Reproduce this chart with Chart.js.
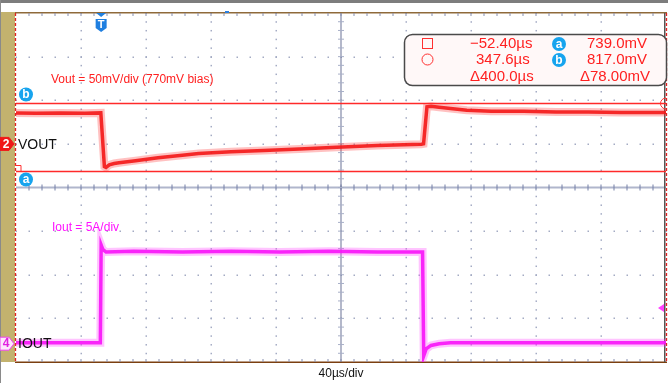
<!DOCTYPE html>
<html>
<head>
<meta charset="utf-8">
<script src="https://cdn.jsdelivr.net/npm/chart.js@4.4.1/dist/chart.umd.min.js"></script>
<style>
html,body{margin:0;padding:0;background:#fff;}
canvas{display:block;}
</style>
</head>
<body>
<canvas id="c" width="668" height="383"></canvas>
<script>
// ---- data (time in µs, Vout in mV, Iout in A) ----
const voutTime = [-52.4,-40,-25,-10,-0.2,2,3,5,8,11,20,35,50,60,80,100,122,145,170,197,198.4,200.5,203,208,215,225,240,260,280,300,320,347.6];
const voutMv   = [805.5,805,805.5,805,805.5,744,743,746,747.5,748.4,750.5,754,757,759,761,762.5,764,766,768,769.5,770,812.5,813,812,810.5,808.5,807.5,807.5,806.5,806.5,806,806];
const ioutTime = [-52.4,-30,-10,-0.5,0,1,3,20,50,80,110,140,170,197.8,198.5,200,203,208,215,250,300,347.6];
const ioutAmp  = [0.1,0.1,0.1,0.1,11.3,10.8,10.5,10.6,10.5,10.6,10.5,10.6,10.5,10.5,-1.4,-0.6,-0.2,0.0,0.1,0.1,0.1,0.1];
// scope settings / readouts
const timeMin = -52.4, timeMax = 347.6;          // cursor positions span the screen
const voutPerDiv = 50, voutBias = 770, voutMarkerDiv = 1;
const ioutPerDiv = 5, ioutZeroDiv = -3.58;
const cursorA = 739.0, cursorB = 817.0;
const readoutRows = [
  ["−52.40µs", "a", "739.0mV"],
  ["347.6µs", "b", "817.0mV"],
  ["Δ400.0µs", "", "Δ78.00mV"]
];

const pts = (xs, ys) => xs.map((x, i) => ({x: x, y: ys[i]}));

const scopePlugin = {
  id: 'scope',
  beforeDatasetsDraw(chart) {
    const ctx = chart.ctx, a = chart.chartArea;
    const L = a.left, R = a.right, T = a.top, B = a.bottom;
    const dx = (R - L) / 10, dy = (B - T) / 8;
    ctx.save();
    ctx.fillStyle = '#7d7d7d'; ctx.fillRect(0, 0, 668, 3);
    ctx.fillStyle = '#c3b26e'; ctx.fillRect(0, T - 1, L - 1, B - T + 1);
    ctx.fillStyle = '#8a8a8a'; ctx.fillRect(0, 0, 1, 383);
    ctx.fillStyle = '#a4abc4';
    for (let k = 1; k < 10; k++) {
      if (k === 5) continue;
      const x = Math.round(L + k * dx);
      for (let j = 0; j <= 40; j++) ctx.fillRect(x - 0.5, T + j * dy / 5 - 0.5, 1.5, 1.5);
    }
    for (let k = 1; k < 8; k++) {
      if (k === 4) continue;
      const y = Math.round(T + k * dy);
      for (let j = 0; j <= 50; j++) ctx.fillRect(L + j * dx / 5 - 0.5, y - 0.5, 1.5, 1.5);
    }
    const cy = T + 4 * dy, cx = L + 5 * dx;
    ctx.fillStyle = '#b0b6cc'; ctx.fillRect(L, cy - 1, R - L, 2);
    ctx.fillStyle = '#7480a8';
    for (let j = 1; j < 50; j++) ctx.fillRect(L + j * dx / 5 - 0.5, cy - 3, 1, 6);
    ctx.fillStyle = '#6a7396'; ctx.fillRect(cx - 0.5, T, 1, B - T);
    ctx.fillStyle = '#a8b0c8';
    for (let j = 1; j < 40; j++) ctx.fillRect(cx - 3, T + j * dy / 5 - 0.5, 6, 1);
    ctx.fillStyle = '#8f6a3a'; ctx.fillRect(L - 1, T - 1, 668 - L, 1.5);
    ctx.fillStyle = '#7b3f10'; ctx.fillRect(L - 1, B - 0.5, 668 - L, 1.5);
    ctx.fillStyle = '#8890b0';
    for (let j = 1; j < 50; j++) {
      const x = L + j * dx / 5;
      ctx.fillRect(x - 0.5, T, 1, 3);
      ctx.fillRect(x - 0.5, B - 3, 1, 3);
    }
    ctx.fillStyle = '#555'; ctx.fillRect(R - 2, T, 1.5, B - T);
    ctx.restore();
  },
  afterDatasetsDraw(chart) {
    const ctx = chart.ctx, a = chart.chartArea;
    const L = a.left, R = a.right, T = a.top, B = a.bottom;
    const yV = chart.scales.y, yI = chart.scales.y2;
    ctx.save();
    ctx.strokeStyle = '#ff2a2a'; ctx.lineWidth = 1.3;
    const ya = Math.round(yV.getPixelForValue(cursorA)) + 0.5;
    const yb = Math.round(yV.getPixelForValue(cursorB)) + 0.5;
    ctx.beginPath(); ctx.moveTo(L, ya); ctx.lineTo(R, ya); ctx.moveTo(L, yb); ctx.lineTo(R, yb); ctx.stroke();
    ctx.setLineDash([3, 2]); ctx.strokeStyle = '#e02020';
    ctx.beginPath(); ctx.moveTo(L - 0.5, T); ctx.lineTo(L - 0.5, B); ctx.moveTo(R + 0.5, T); ctx.lineTo(R + 0.5, B); ctx.stroke();
    ctx.setLineDash([]);
    ctx.strokeStyle = '#ff3030'; ctx.lineWidth = 1;
    ctx.beginPath(); ctx.moveTo(L - 1, ya - 6); ctx.lineTo(L + 5, ya - 6); ctx.lineTo(L + 5, ya); ctx.stroke();
    ctx.beginPath(); ctx.arc(R, yb, 5.5, Math.PI * 0.5, Math.PI * 1.5); ctx.stroke();
    const badge = (x, y, t) => {
      ctx.fillStyle = '#17a4ee'; ctx.beginPath(); ctx.arc(x, y, 7, 0, Math.PI * 2); ctx.fill();
      ctx.fillStyle = '#fff'; ctx.font = 'bold 12px "Liberation Sans", Arial, sans-serif';
      ctx.textAlign = 'center'; ctx.textBaseline = 'middle'; ctx.fillText(t, x, y + 0.5);
    };
    badge(L + 10, yb - 9, 'b');
    badge(L + 10, ya + 8, 'a');
    const chMark = (y, fill, stroke, txtCol, t) => {
      ctx.beginPath(); ctx.moveTo(0, y - 6.5); ctx.lineTo(9, y - 6.5); ctx.lineTo(14, y); ctx.lineTo(9, y + 6.5); ctx.lineTo(0, y + 6.5); ctx.closePath();
      ctx.fillStyle = fill; ctx.fill(); ctx.strokeStyle = stroke; ctx.lineWidth = 1; ctx.stroke();
      ctx.fillStyle = txtCol; ctx.font = 'bold 12px "Liberation Sans", Arial, sans-serif';
      ctx.textAlign = 'center'; ctx.textBaseline = 'middle'; ctx.fillText(t, 6, y + 0.5);
    };
    const y2m = yV.getPixelForValue(voutBias), y4m = yI.getPixelForValue(0);
    chMark(y2m, '#f01818', '#f01818', '#fff', '2');
    chMark(y4m, '#fde6fd', '#f040f0', '#e020e0', '4');
    const tx = chart.scales.x.getPixelForValue(0);
    ctx.fillStyle = '#1f7fe0';
    ctx.beginPath(); ctx.moveTo(tx - 5, T); ctx.lineTo(tx + 5, T); ctx.lineTo(tx, T + 4); ctx.closePath(); ctx.fill();
    ctx.beginPath(); ctx.moveTo(tx - 5.5, T + 6); ctx.lineTo(tx + 5.5, T + 6); ctx.lineTo(tx + 5.5, T + 15); ctx.lineTo(tx, T + 19); ctx.lineTo(tx - 5.5, T + 15); ctx.closePath(); ctx.fill();
    ctx.fillStyle = '#fff'; ctx.font = 'bold 11px "Liberation Sans", Arial, sans-serif';
    ctx.textAlign = 'center'; ctx.textBaseline = 'middle'; ctx.fillText('T', tx, T + 12);
    ctx.fillStyle = '#2a7fe0'; ctx.fillRect(225, T - 2, 4, 2);
    ctx.fillStyle = '#ff40ff';
    ctx.beginPath(); ctx.moveTo(R - 8, 308); ctx.lineTo(R - 2, 304); ctx.lineTo(R - 2, 312); ctx.closePath(); ctx.fill();
    ctx.textAlign = 'left'; ctx.textBaseline = 'middle';
    ctx.font = '12px "Liberation Sans", Arial, sans-serif';
    ctx.fillStyle = '#ff2020'; ctx.fillText('Vout = 50mV/div (770mV bias)', 51, 80);
    ctx.fillStyle = '#ff10ff'; ctx.fillText('Iout = 5A/div', 52, 228);
    ctx.fillStyle = '#111';
    ctx.font = '14px "Liberation Sans", Arial, sans-serif';
    ctx.fillText('VOUT', 18, y2m + 1);
    ctx.fillText('IOUT', 18, y4m);
    ctx.textAlign = 'center'; ctx.font = '12px "Liberation Sans", Arial, sans-serif';
    ctx.fillText('40µs/div', (L + R) / 2, 374);
    ctx.beginPath(); ctx.roundRect(404.5, 34.5, 262, 51, 8);
    ctx.fillStyle = '#fff8f8'; ctx.fill(); ctx.strokeStyle = '#4a4a4a'; ctx.lineWidth = 1.5; ctx.stroke();
    ctx.strokeStyle = '#ff3030'; ctx.lineWidth = 1;
    ctx.strokeRect(422.5, 38.5, 10, 10);
    ctx.beginPath(); ctx.arc(427.5, 59.5, 5.5, 0, Math.PI * 2); ctx.stroke();
    const rowY = [44, 60, 77];
    const c1 = [470, 476, 470], c2 = [587, 587, 580];
    readoutRows.forEach((r, i) => {
      ctx.font = '15px "Liberation Sans", Arial, sans-serif';
      ctx.textBaseline = 'middle'; ctx.textAlign = 'left'; ctx.fillStyle = '#ff2020';
      ctx.fillText(r[0], c1[i], rowY[i]);
      ctx.fillText(r[2], c2[i], rowY[i]);
      if (r[1]) badge(559, rowY[i], r[1]);
    });
    ctx.restore();
  }
};

new Chart(document.getElementById('c'), {
  type: 'line',
  data: {
    datasets: [
      {data: pts(voutTime, voutMv), yAxisID: 'y', borderColor: 'rgba(255,50,50,0.3)', borderWidth: 8},
      {data: pts(voutTime, voutMv), yAxisID: 'y', borderColor: 'rgba(238,12,12,0.9)', borderWidth: 3.5},
      {data: pts(ioutTime, ioutAmp), yAxisID: 'y2', borderColor: 'rgba(255,60,255,0.3)', borderWidth: 8},
      {data: pts(ioutTime, ioutAmp), yAxisID: 'y2', borderColor: 'rgba(245,0,245,0.9)', borderWidth: 3.5}
    ]
  },
  options: {
    responsive: false, animation: false,
    layout: {padding: {left: 16, right: 2, top: 13, bottom: 21}},
    elements: {point: {radius: 0}, line: {tension: 0}},
    plugins: {legend: {display: false}, tooltip: {enabled: false}},
    scales: {
      x: {type: 'linear', min: timeMin, max: timeMax, display: false},
      y: {min: voutBias - (4 + voutMarkerDiv) * voutPerDiv, max: voutBias + (4 - voutMarkerDiv) * voutPerDiv, display: false},
      y2: {min: (-4 - ioutZeroDiv) * ioutPerDiv, max: (4 - ioutZeroDiv) * ioutPerDiv, display: false}
    }
  },
  plugins: [scopePlugin]
});
</script>
</body>
</html>
